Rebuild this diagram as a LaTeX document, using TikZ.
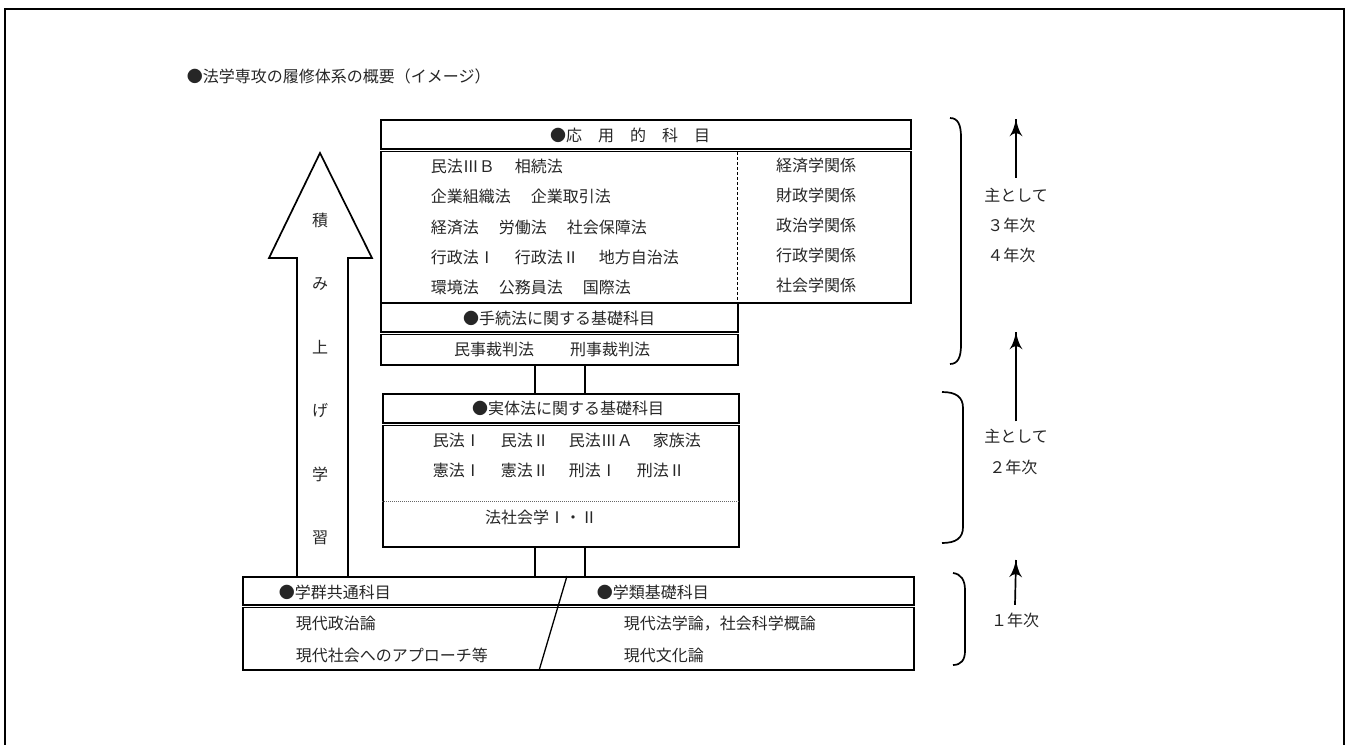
\documentclass[tikz,border=0pt]{standalone}
\usepackage{fontspec}
\setmainfont{Noto Sans CJK JP}
\usepackage{tikz}
\usetikzlibrary{arrows}
\usetikzlibrary{decorations.markings}
\tikzset{rise/.style = {decoration={markings,
                                    mark=at position 1 with {\arrow[scale=2.2]{latex'}}},
                        postaction={decorate}}}
\tikzset{box/.style = {draw, line width = 1.7, rectangle, inner sep = 0, anchor = north west}}
\tikzset{txt/.style = {inner sep = 0, text = black!85, font = \fontsize{16}{30}\selectfont}}
\tikzset{hline/.style = {double, double distance = 0.9, line width = 1.2}}
\newcommand{\wsp}{\hspace{20pt}}

\begin{document}
\begin{tikzpicture}[x = 1pt, y = -1pt, line width = 1.7]
    \useasboundingbox (0, 0) rectangle (1348, 744);
    \draw [line width = 2.4] (5, 746) -- (5, 9) -- (1344, 9) -- (1344, 746);

    \node [txt, anchor = west] (title) at (186, 76) {●法学専攻の履修体系の概要（イメージ）};

    \node [box, minimum width = 530, minimum height = 183] (apply) at (380, 119) {};
    \draw [hline] ([yshift = -31pt]apply.north west) -- ([yshift = -31pt]apply.north east);
    \draw [densely dashed, line width = 0.9] ([xshift = 357pt, yshift = -33pt]apply.north west) -- ([xshift = 357pt]apply.south west);
    \node [txt] (applyhead) at (630, 135) {●応　用　的　科　目};
    \node [txt, align = left, anchor = west, font = \fontsize{16}{30.2}\selectfont] (applylaw) at (430, 227)
        {民法ⅢＢ\wsp 相続法\\企業組織法\wsp 企業取引法\\経済法\wsp 労働法\wsp 社会保障法\\行政法Ⅰ\wsp 行政法Ⅱ\wsp 地方自治法\\環境法\wsp 公務員法\wsp 国際法};
    \node [txt, align = center] (applyrel) at (816, 225) {経済学関係\\財政学関係\\政治学関係\\行政学関係\\社会学関係};

    \node [box, minimum width = 357, minimum height = 62] (proc) at (380, 302) {};
    \draw [hline] ([yshift = -31pt]proc.north west) -- ([yshift = -31pt]proc.north east);
    \node [txt] (prochead) at (559, 318) {●手続法に関する基礎科目};
    \node [txt] (proclaw) at (552, 349) {民事裁判法\hspace{36pt}刑事裁判法};

    \node [box, minimum width = 356, minimum height = 153] (subst) at (382, 393) {};
    \draw [hline] ([yshift = -31pt]subst.north west) -- ([yshift = -31pt]subst.north east);
    \draw [densely dotted, line width = 1, black!60] ([yshift = -108pt]subst.north west) -- ([yshift = -108pt]subst.north east);
    \node [txt] (substhead) at (568, 408) {●実体法に関する基礎科目};
    \node [txt, align = left, anchor = west] (substlaw) at (432, 455)
        {民法Ⅰ\wsp 民法Ⅱ\wsp 民法ⅢＡ\wsp 家族法\\憲法Ⅰ\wsp 憲法Ⅱ\wsp 刑法Ⅰ\wsp 刑法Ⅱ};
    \node [txt] (substsoc) at (541, 517) {法社会学Ⅰ・Ⅱ};

    \node [box, minimum width = 671, minimum height = 93] (base) at (242, 576) {};
    \draw [hline] ([yshift = -30pt]base.north west) -- ([yshift = -30pt]base.north east);
    \draw [line width = 1.3] ([xshift = 325pt]base.north west) -- ([xshift = 297pt]base.south west);
    \node [txt, anchor = west] (basehead1) at (278, 592) {●学群共通科目};
    \node [txt, anchor = west] (basehead2) at (596, 592) {●学類基礎科目};
    \node [txt, align = left, anchor = west, font = \fontsize{16}{32}\selectfont] (basel) at (295, 639)
        {現代政治論\\現代社会へのアプローチ等};
    \node [txt, align = left, anchor = west, font = \fontsize{16}{32}\selectfont] (baser) at (623, 639)
        {現代法学論，社会科学概論\\現代文化論};

    \draw ([xshift = 155pt]proc.south west) -- ([xshift = 153pt]subst.north west);
    \draw ([xshift = 205pt]proc.south west) -- ([xshift = 203pt]subst.north west);
    \draw ([xshift = 153pt]subst.south west) -- ([xshift = 293pt]base.north west);
    \draw ([xshift = 203pt]subst.south west) -- ([xshift = 343pt]base.north west);

    \draw (297, 576) -- (297, 258) -- (269, 258) -- (320, 153) -- (372, 258) -- (348, 258) -- (348, 576);
    \node [txt, align = center, font = \fontsize{16}{63.4}\selectfont] (stack) at (320, 379) {積\\み\\上\\げ\\学\\習};

    \draw (950, 118) .. controls (958, 118) and (961, 125) .. (961, 137) -- (961, 345) .. controls (961, 357) and (958, 364) .. (950, 364);
    \draw (942, 392) .. controls (956, 392) and (963, 397) .. (963, 408) -- (963, 527) .. controls (963, 538) and (956, 543) .. (942, 543);
    \draw (953, 573) .. controls (961, 574) and (965, 580) .. (965, 590) -- (965, 651) .. controls (965, 660) and (961, 665) .. (953, 665);

    \node [txt, align = left] (yr34) at (1016, 225) {主として\\\hspace{3pt}３年次\\\hspace{3pt}４年次};
    \node [txt, align = left, font = \fontsize{16}{31}\selectfont] (yr2) at (1016, 452) {主として\\\hspace{5pt}２年次};
    \node [txt] (yr1) at (1015, 620) {１年次};

    \coordinate (tip34) at (1016, 119);
    \coordinate (tip2) at (1016, 332);
    \coordinate (tip1) at (1016, 560);
    \draw [rise] ([yshift = 9pt]yr34.north) -- (tip34);
    \draw [rise] ([yshift = 7pt]yr2.north) -- (tip2);
    \draw [rise] ([yshift = 7pt]yr1.north) -- (tip1);
  \end{tikzpicture}
\end{document}
